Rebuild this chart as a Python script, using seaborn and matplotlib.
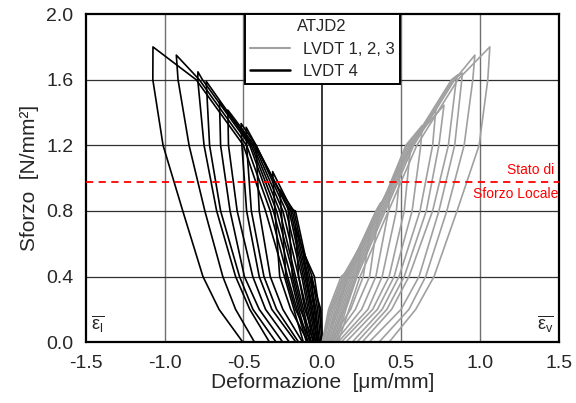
import pandas as pd
import matplotlib.pyplot as plt
import seaborn as sns
from matplotlib.lines import Line2D

# Stress levels at which each branch is read [N/mm2]
levels = [0.0, 0.2, 0.4, 0.8, 1.2, 1.6]

# LVDT 4 (lateral strain, black) - peak of each cycle
black_peak_x = [-1.074, -0.926, -0.789, -0.736, -0.652, -0.599, -0.515, -0.483,
                -0.42, -0.315, -0.27, -0.22, -0.17, -0.12, -0.07]
black_peak_y = [1.80, 1.75, 1.648, 1.59, 1.465, 1.415, 1.333, 1.31,
                1.19, 1.04, 0.93, 0.82, 0.70, 0.55, 0.40]
# loading branch, strain at levels (ascending, only levels below the peak)
black_load_x = [
    [-0.12, -0.18, -0.24, -0.36, -0.50, -0.80],
    [-0.10, -0.16, -0.22, -0.33, -0.48, -0.78],
    [-0.09, -0.15, -0.20, -0.31, -0.46, -0.76],
    [-0.08, -0.13, -0.18, -0.29, -0.45],
    [-0.07, -0.12, -0.17, -0.27, -0.44],
    [-0.06, -0.10, -0.15, -0.25, -0.43],
    [-0.05, -0.09, -0.13, -0.23, -0.42],
    [-0.04, -0.08, -0.12, -0.21, -0.42],
    [-0.03, -0.07, -0.11, -0.20],
    [-0.03, -0.06, -0.10, -0.19],
    [-0.02, -0.05, -0.09, -0.18],
    [-0.02, -0.04, -0.08, -0.17],
    [-0.01, -0.03, -0.065],
    [0.0, -0.02, -0.05],
    [0.0, -0.01],
]
# unloading branch, strain at levels (descending from the peak to 0)
black_unload_x = [
    [-1.075, -1.01, -0.885, -0.757, -0.655, -0.504],
    [-0.915, -0.845, -0.745, -0.631, -0.55, -0.43],
    [-0.79, -0.75, -0.67, -0.55, -0.46, -0.335],
    [-0.715, -0.645, -0.525, -0.44, -0.293],
    [-0.645, -0.585, -0.494, -0.40, -0.251],
    [-0.595, -0.54, -0.441, -0.36, -0.209],
    [-0.51, -0.48, -0.40, -0.32, -0.167],
    [-0.48, -0.45, -0.37, -0.29, -0.15],
    [-0.40, -0.33, -0.25, -0.125],
    [-0.30, -0.27, -0.20, -0.09],
    [-0.26, -0.23, -0.17, -0.07],
    [-0.215, -0.19, -0.14, -0.05],
    [-0.15, -0.11, -0.04],
    [-0.10, -0.07, -0.03],
    [-0.05, -0.02],
]

# LVDT 1, 2, 3 (vertical strain, grey)
grey_peak_x = [1.063, 0.968, 0.888, 0.86, 0.772, 0.72, 0.633, 0.56,
               0.498, 0.43, 0.37, 0.31, 0.25, 0.18]
grey_peak_y = [1.80, 1.75, 1.64, 1.63, 1.445, 1.415, 1.32, 1.19,
               1.08, 0.95, 0.85, 0.72, 0.60, 0.45]
grey_load_x = [
    [0.10, 0.17, 0.24, 0.42, 0.60, 0.86],
    [0.09, 0.15, 0.22, 0.40, 0.58, 0.84],
    [0.08, 0.14, 0.21, 0.39, 0.57, 0.83],
    [0.07, 0.13, 0.20, 0.38, 0.56, 0.82],
    [0.06, 0.12, 0.19, 0.37, 0.55],
    [0.05, 0.11, 0.18, 0.36, 0.54],
    [0.04, 0.10, 0.17, 0.36, 0.53],
    [0.03, 0.09, 0.16, 0.35],
    [0.03, 0.08, 0.16, 0.35],
    [0.02, 0.07, 0.15, 0.35],
    [0.01, 0.06, 0.15, 0.34],
    [0.01, 0.05, 0.14],
    [0.0, 0.05, 0.13],
    [0.0, 0.04, 0.12],
]
grey_unload_x = [
    [1.05, 0.995, 0.855, 0.709, 0.593, 0.424],
    [0.955, 0.90, 0.79, 0.656, 0.55, 0.36],
    [0.885, 0.84, 0.74, 0.614, 0.50, 0.297],
    [0.85, 0.80, 0.70, 0.55, 0.44, 0.253],
    [0.74, 0.66, 0.52, 0.41, 0.22],
    [0.70, 0.62, 0.487, 0.38, 0.19],
    [0.625, 0.57, 0.456, 0.35, 0.15],
    [0.52, 0.424, 0.32, 0.12],
    [0.47, 0.38, 0.29, 0.10],
    [0.42, 0.34, 0.25, 0.08],
    [0.36, 0.30, 0.21, 0.06],
    [0.26, 0.18, 0.05],
    [0.22, 0.14, 0.04],
    [0.16, 0.10, 0.02],
]

stato_locale = 0.975


def build_loops(sensor, peak_x, peak_y, load_x, unload_x):
    rows = []
    for k in range(len(peak_x)):
        lv = [l for l in levels if l < peak_y[k]]
        xs = list(load_x[k]) + [peak_x[k]] + list(unload_x[k]) + [load_x[k][0]]
        ys = lv + [peak_y[k]] + lv[::-1] + [0.0]
        for x, y in zip(xs, ys):
            rows.append({'sensor': sensor, 'loop': f'{sensor}-{k}',
                         'strain': x, 'stress': y})
    return rows


df = pd.DataFrame(build_loops('LVDT 4', black_peak_x, black_peak_y, black_load_x, black_unload_x)
                  + build_loops('LVDT 1, 2, 3', grey_peak_x, grey_peak_y, grey_load_x, grey_unload_x))

sns.set_style('white')
plt.rcParams['font.family'] = ['Liberation Sans', 'DejaVu Sans']
plt.rcParams['mathtext.fontset'] = 'custom'
plt.rcParams['mathtext.rm'] = 'Liberation Sans'

fig, ax = plt.subplots(figsize=(5.76, 4.03), dpi=100)
fig.subplots_adjust(left=0.149, right=0.970, top=0.965, bottom=0.151)

# grid
for gx in [-1.0, -0.5, 0.5, 1.0]:
    ax.axvline(gx, color='#707070', lw=1.0, zorder=0)
ax.axvline(0.0, color='black', lw=1.1, zorder=0)
for gy in [0.4, 0.8, 1.2, 1.6]:
    ax.axhline(gy, color='#303030', lw=0.9, zorder=0)

palette = {'LVDT 1, 2, 3': '#a0a0a0', 'LVDT 4': 'black'}
sns.lineplot(data=df, x='strain', y='stress', hue='sensor', units='loop',
             estimator=None, sort=False, palette=palette, lw=1.2,
             legend=False, ax=ax, zorder=2)

ax.axhline(stato_locale, color='#ff0000', lw=1.3, ls=(0, (4, 3)), zorder=3)
ax.text(1.47, stato_locale + 0.03, 'Stato di', color='#ff0000', fontsize=10,
        ha='right', va='bottom')
ax.text(1.5, stato_locale - 0.03, 'Sforzo Locale', color='#ff0000', fontsize=10,
        ha='right', va='top')

ax.text(-1.47, 0.05, r'$\overline{\mathrm{ε}_{\mathrm{l}}}$', fontsize=13, ha='left', va='bottom')
ax.text(1.47, 0.05, r'$\overline{\mathrm{ε}_{\mathrm{v}}}$', fontsize=13, ha='right', va='bottom')

ax.set_xlim(-1.5, 1.5)
ax.set_ylim(0.0, 2.0)
ax.set_xticks([-1.5, -1.0, -0.5, 0.0, 0.5, 1.0, 1.5])
ax.set_yticks([0.0, 0.4, 0.8, 1.2, 1.6, 2.0])
ax.xaxis.set_major_formatter(plt.FormatStrFormatter('%.1f'))
ax.yaxis.set_major_formatter(plt.FormatStrFormatter('%.1f'))
ax.tick_params(direction='out', length=6, width=1.2, labelsize=14, color='black', pad=3)
ax.set_xlabel('Deformazione  [\u03bcm/mm]', fontsize=15, labelpad=1)
ax.set_ylabel('Sforzo  [N/mm\u00b2]', fontsize=15, labelpad=5)
for s in ax.spines.values():
    s.set_color('black')
    s.set_linewidth(1.6)

handles = [Line2D([], [], color='#a0a0a0', lw=1.5), Line2D([], [], color='black', lw=1.8)]
leg = ax.legend(handles, ['LVDT 1, 2, 3', 'LVDT 4'], title='ATJD2', loc='upper center',
                bbox_to_anchor=(0.5, 1.0), borderaxespad=0, fontsize=12, title_fontsize=12,
                frameon=True, fancybox=False, framealpha=1, edgecolor='black',
                handlelength=2.4, labelspacing=0.45, borderpad=0.3, handletextpad=0.8)
leg.get_frame().set_linewidth(1.4)
leg.set_zorder(5)

plt.savefig('out.png', dpi=100)
